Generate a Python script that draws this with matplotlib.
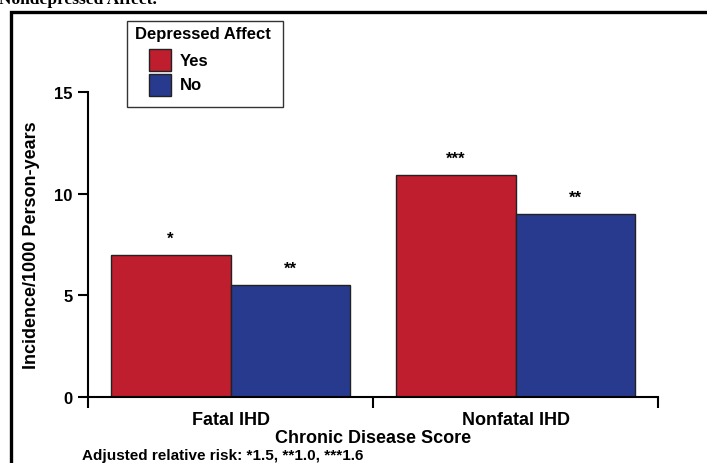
import matplotlib
matplotlib.use("Agg")
import matplotlib.pyplot as plt
from matplotlib.patches import Rectangle

plt.rcParams['font.family'] = ['Liberation Sans', 'DejaVu Sans']
plt.rcParams['font.weight'] = 'bold'

# incidence per 1000 person-years by depressed affect
categories = ["Fatal IHD", "Nonfatal IHD"]
yes_values = [7.0, 10.9]
no_values = [5.5, 9.0]
yes_marks = ["*", "***"]
no_marks = ["**", "**"]
legend_labels = ["Yes", "No"]

red = "#BE1E2D"
blue = "#283A8E"

W, H = 707, 464
fig = plt.figure(figsize=(W / 100, H / 100), dpi=100)
ax = fig.add_axes([88 / W, 1 - 398 / H, 570 / W, 305 / H])

width = 0.42
xs = range(len(categories))
for i in xs:
    ax.bar(i - width / 2, yes_values[i], width, color=red, edgecolor="#222222", linewidth=1)
    ax.bar(i + width / 2, no_values[i], width, color=blue, edgecolor="#222222", linewidth=1)
    ax.text(i - width / 2, yes_values[i] + 0.45, yes_marks[i], ha="center", va="bottom", fontsize=12)
    ax.text(i + width / 2, no_values[i] + 0.45, no_marks[i], ha="center", va="bottom", fontsize=12)

ax.set_xlim(-0.5, 1.5)
ax.set_ylim(0, 15)
ax.set_yticks([0, 5, 10, 15])
ax.set_xticks([-0.5, 0.5, 1.5])
ax.set_xticklabels([])
ax.set_xticks(list(xs), minor=True)
ax.set_xticklabels(categories, minor=True, fontsize=13, fontweight="bold")
ax.tick_params(axis="x", which="minor", length=0, pad=10)
ax.tick_params(axis="x", which="major", length=8, width=1.5, direction="out")
ax.tick_params(axis="y", length=7, width=1.5, labelsize=12, pad=4)
for lbl in ax.get_yticklabels():
    lbl.set_fontweight("bold")

for s in ["top", "right"]:
    ax.spines[s].set_visible(False)
for s in ["left", "bottom"]:
    ax.spines[s].set_linewidth(1.5)

ax.set_xlabel("Chronic Disease Score", fontsize=13, fontweight="bold", labelpad=1)
ax.set_ylabel("Incidence/1000 Person-years", fontsize=13, fontweight="bold", labelpad=10)

# legend box drawn by hand: title on the left, swatches indented below
fig.patches.append(Rectangle((127 / W, 1 - 108 / H), 156 / W, 86 / H,
                             transform=fig.transFigure, facecolor="white",
                             edgecolor="#333333", linewidth=1))
fig.text(135 / W, 1 - 35 / H, "Depressed Affect", fontsize=12, fontweight="bold",
         va="center", ha="left")
for k, (lab, col) in enumerate(zip(legend_labels, [red, blue])):
    top = 50 + 25 * k
    fig.patches.append(Rectangle((149 / W, 1 - (top + 22) / H), 22 / W, 22 / H,
                                 transform=fig.transFigure, facecolor=col,
                                 edgecolor="#222222", linewidth=1))
    fig.text(180 / W, 1 - (top + 11) / H, lab, fontsize=12, fontweight="bold",
             va="center", ha="left")

fig.text(82 / W, 1 - 456 / H, "Adjusted relative risk: *1.5, **1.0, ***1.6",
         fontsize=11, fontweight="bold", va="center")

# outer frame and clipped heading
fig.patches.append(Rectangle((11 / W, -0.1), 1.1, 1 - 13 / H + 0.1,
                             transform=fig.transFigure, fill=False,
                             edgecolor="black", linewidth=2.4))
fig.text(-1 / W, 1 - 4 / H, "Nondepressed Affect.", family="Liberation Serif",
         fontsize=12.5, fontweight="bold", va="baseline")

fig.savefig("out.png", dpi=100)
